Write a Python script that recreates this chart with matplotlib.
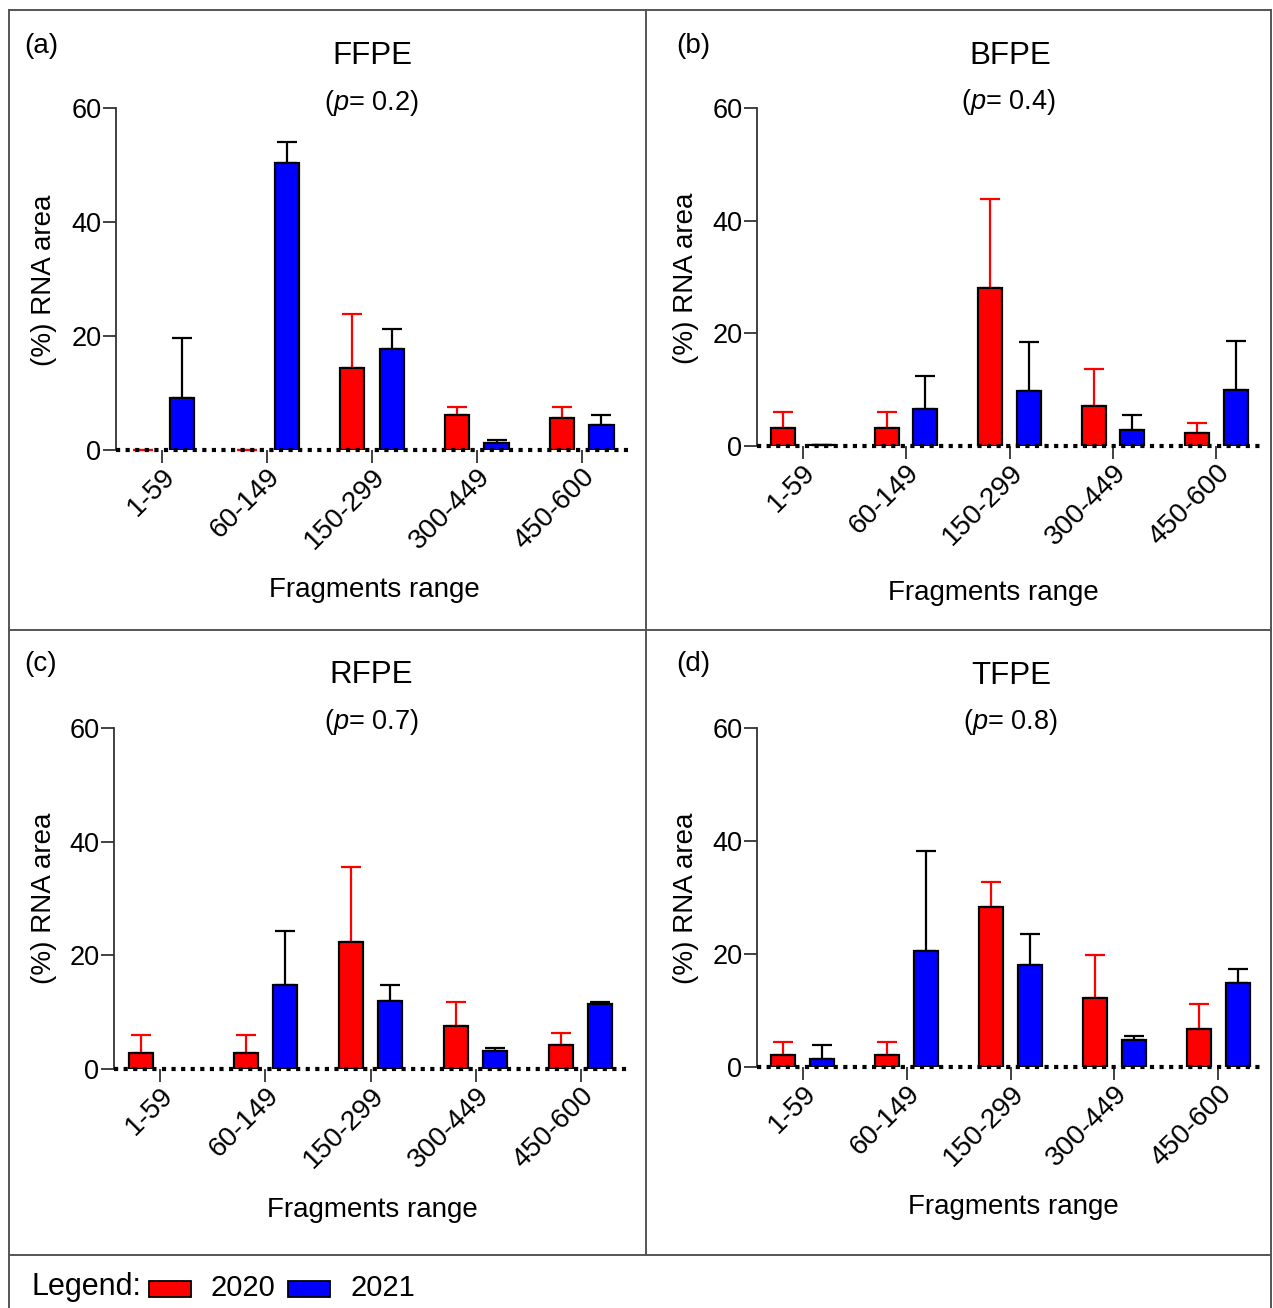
import numpy as np
import matplotlib
matplotlib.use("Agg")
import matplotlib.pyplot as plt
from matplotlib.lines import Line2D
from matplotlib.patches import Rectangle

plt.rcParams['font.family'] = ['Liberation Sans', 'DejaVu Sans']
plt.rcParams['mathtext.fontset'] = 'custom'
plt.rcParams['mathtext.it'] = 'Liberation Sans:italic'
plt.rcParams['mathtext.rm'] = 'Liberation Sans'

# data
categories = ["1-59", "60-149", "150-299", "300-449", "450-600"]
panel_tags = ["(a)", "(b)", "(c)", "(d)"]
panel_names = ["FFPE", "BFPE", "RFPE", "TFPE"]
p_values = ["0.2", "0.4", "0.7", "0.8"]
years = ["2020", "2021"]

ffpe_2020 = [0.0, 0.0, 14.3, 6.2, 5.6]
ffpe_2020_err = [0.0, 0.0, 9.6, 1.4, 2.0]
ffpe_2021 = [9.2, 50.3, 17.7, 1.2, 4.3]
ffpe_2021_err = [10.4, 3.8, 3.6, 0.6, 1.9]

bfpe_2020 = [3.2, 3.2, 28.1, 7.1, 2.3]
bfpe_2020_err = [2.9, 2.9, 15.7, 6.6, 1.8]
bfpe_2021 = [0.1, 6.5, 9.7, 2.8, 9.9]
bfpe_2021_err = [0.1, 5.9, 8.7, 2.7, 8.8]

rfpe_2020 = [2.9, 2.9, 22.3, 7.5, 4.2]
rfpe_2020_err = [3.0, 3.0, 13.3, 4.3, 2.2]
rfpe_2021 = [0.0, 14.8, 11.9, 3.2, 11.4]
rfpe_2021_err = [np.nan, 9.4, 2.8, 0.5, 0.4]

tfpe_2020 = [2.2, 2.2, 28.4, 12.3, 6.7]
tfpe_2020_err = [2.2, 2.2, 4.3, 7.5, 4.4]
tfpe_2021 = [1.4, 20.6, 18.1, 4.8, 14.8]
tfpe_2021_err = [2.5, 17.6, 5.4, 0.7, 2.6]

values_2020 = [ffpe_2020, bfpe_2020, rfpe_2020, tfpe_2020]
errors_2020 = [ffpe_2020_err, bfpe_2020_err, rfpe_2020_err, tfpe_2020_err]
values_2021 = [ffpe_2021, bfpe_2021, rfpe_2021, tfpe_2021]
errors_2021 = [ffpe_2021_err, bfpe_2021_err, rfpe_2021_err, tfpe_2021_err]

W, H = 1273, 1308
def fx(x):
    return x / W
def fy(y):
    return 1 - y / H

fig = plt.figure(figsize=(W / 100, H / 100), dpi=100, facecolor='w')

# axes boxes in pixels: left, right, top, bottom
boxes = [(116, 628, 108, 450), (757, 1262, 108, 446),
         (114, 627, 728, 1069), (757, 1264, 728, 1067)]
tag_pos = [(24, 46), (676, 46), (24, 664), (676, 664)]
title_pos = [(372, 56), (1010, 56), (371, 675), (1011, 676)]
p_pos = [(371, 103), (1008, 102), (371, 722), (1010, 722)]
ylab_pos = [(44, 280), (686, 278), (44, 898), (686, 898)]
xlab_pos = [(374, 590), (993, 593), (372, 1210), (1013, 1207)]

x = np.arange(len(categories))
off = 0.187
bw = 0.23
edge = '#333333'

for i in range(4):
    l, r, t, b = boxes[i]
    ax = fig.add_axes([fx(l), fy(b), (r - l) / W, (b - t) / H])
    for vals, errs, col, ecol, sgn in [(values_2020[i], errors_2020[i], 'red', 'red', -1),
                                       (values_2021[i], errors_2021[i], 'blue', 'black', 1)]:
        vals = np.array(vals)
        errs = np.array(errs)
        bars = ax.bar(x + sgn * off, vals, width=bw, color=col, edgecolor='black',
                      linewidth=1.6, zorder=2)
        for bar, v in zip(bars, vals):
            if v <= 0:
                bar.set_visible(False)
        # only the upper half of the error bar is drawn
        ax.errorbar(x + sgn * off, vals, yerr=[errs * 0, errs], fmt='none',
                    ecolor=ecol, elinewidth=1.6, capsize=7, capthick=1.6, zorder=1,
                    clip_on=False)
    ax.axhline(0, color='black', ls=(0, (1, 1.3)), lw=3.0, zorder=4, clip_on=False)
    ax.set_xlim(-0.44, 4.44)
    ax.set_ylim(0, 60)
    ax.set_yticks([0, 20, 40, 60])
    ax.set_xticks(x)
    ax.set_xticklabels(categories, rotation=45, ha='right', rotation_mode='anchor',
                       fontsize=20)
    ax.tick_params(axis='y', labelsize=19.5, length=9.5, width=1.3, color=edge, pad=1)
    ax.tick_params(axis='x', length=9.5, width=1.3, color=edge, pad=0.5)
    for s in ['top', 'right', 'bottom']:
        ax.spines[s].set_visible(False)
    ax.spines['left'].set_color(edge)
    ax.spines['left'].set_linewidth(1.3)
    ax.patch.set_alpha(0)

    fig.text(fx(tag_pos[i][0]), fy(tag_pos[i][1]), panel_tags[i], fontsize=20,
             ha='left', va='center')
    fig.text(fx(title_pos[i][0]), fy(title_pos[i][1]), panel_names[i], fontsize=22.5,
             ha='center', va='center')
    fig.text(fx(p_pos[i][0]), fy(p_pos[i][1]), '(' + r'$p$' + '= ' + p_values[i] + ')',
             fontsize=19.5, ha='center', va='center')
    fig.text(fx(ylab_pos[i][0]), fy(ylab_pos[i][1]), '(%) RNA area', fontsize=20,
             rotation=90, ha='center', va='center')
    fig.text(fx(xlab_pos[i][0]), fy(xlab_pos[i][1]), 'Fragments range', fontsize=20,
             ha='center', va='center')

# frame lines around the panels
lc = '#555555'
for (x0, y0, x1, y1) in [(9, 10, 1271, 10), (9, 10, 9, 1308), (1271, 10, 1271, 1308),
                         (646, 10, 646, 1255), (9, 630, 1271, 630), (9, 1255, 1271, 1255)]:
    fig.add_artist(Line2D([fx(x0), fx(x1)], [fy(y0), fy(y1)], color=lc, lw=1.4))

# legend row
fig.text(fx(32), fy(1287), 'Legend:', fontsize=22, ha='left', va='center')
leg_cols = ['red', 'blue']
leg_x = [149, 288]
for k in range(2):
    fig.add_artist(Rectangle((fx(leg_x[k]), fy(1297)), 42 / W, 16 / H, facecolor=leg_cols[k],
                             edgecolor='black', lw=1.3, transform=fig.transFigure))
    fig.text(fx(leg_x[k] + 62), fy(1288), years[k], fontsize=21, ha='left', va='center')

fig.savefig('out.png', dpi=100, facecolor='w')
